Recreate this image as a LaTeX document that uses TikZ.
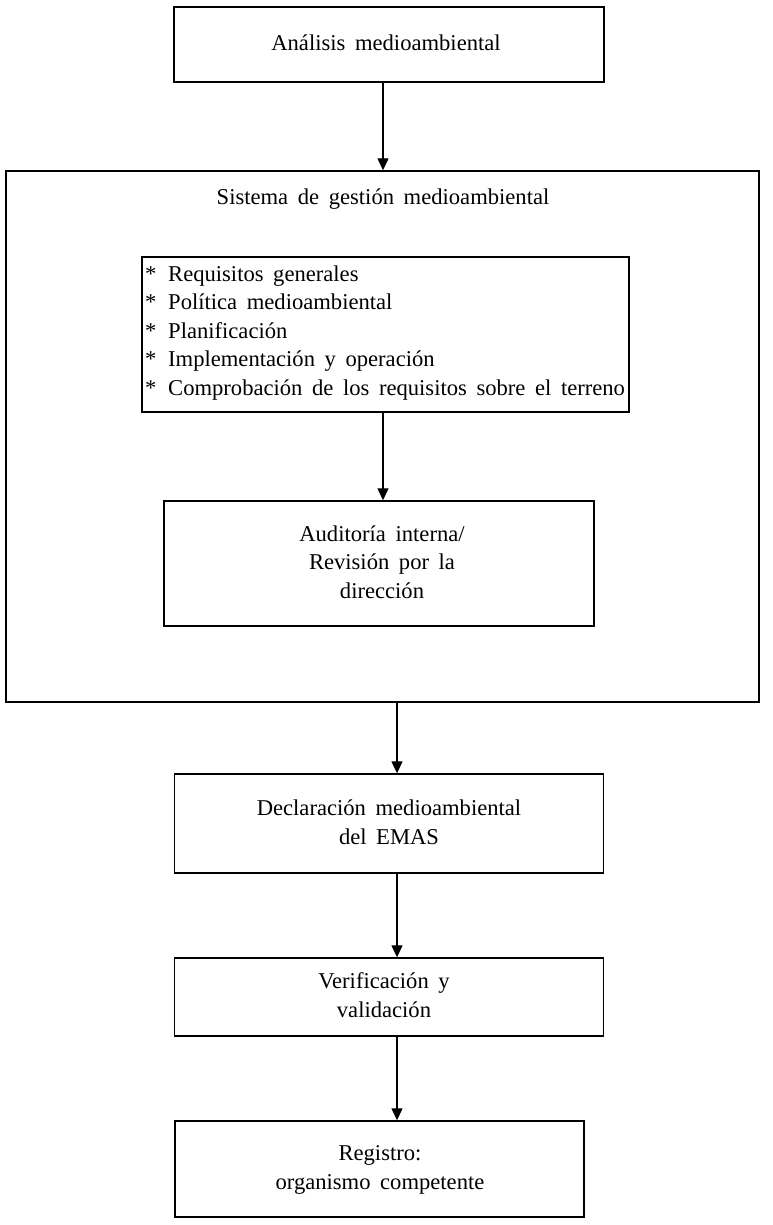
\documentclass[tikz,border=0pt]{standalone}
\usepackage{fontspec}
\setmainfont{Liberation Serif}[WordSpace=1.7]
\usetikzlibrary{arrows.meta}
\begin{document}
\begin{tikzpicture}[x=1pt,y=-1pt,
  box/.style={draw,line width=1.4pt,rectangle,inner sep=0pt},
  txt/.style={align=center,font=\fontsize{22.6}{28.5}\selectfont,inner sep=0pt},
  arr/.style={line width=1.3pt,-{Triangle[width=11pt,length=12pt]}}]
\useasboundingbox (0,0) rectangle (772,1225);
% boxes
\node[box,minimum width=430,minimum height=75] (top) at (389,44.5) {};
\node[box,minimum width=753,minimum height=531] (big) at (382.5,436.5) {};
\node[box,minimum width=487,minimum height=155] (list) at (385.5,334.5) {};
\node[box,minimum width=430,minimum height=125] (aud) at (379,563.5) {};
\node[box,minimum width=429,minimum height=99] (decl) at (389,823.5) {};
\node[box,minimum width=429,minimum height=78] (verif) at (389,997) {};
\node[box,minimum width=409,minimum height=96] (reg) at (379.5,1169) {};
% texts
\node[txt] (ttop) at (386,43) {Análisis medioambiental};
\node[txt] (tbig) at (383,199) {Sistema de gestión medioambiental};
\node[txt,align=left,anchor=west] (tlist) at (145,333) {%
\makebox[23pt][l]{*}Requisitos generales\\
\makebox[23pt][l]{*}Política medioambiental\\
\makebox[23pt][l]{*}Planificación\\
\makebox[23pt][l]{*}Implementación y operación\\
\makebox[23pt][l]{*}Comprobación de los requisitos sobre el terreno};
\node[txt] (taud) at (382,562) {Auditoría interna/\\Revisión por la\\dirección};
\node[txt] (tdecl) at (389,822) {Declaración medioambiental\\del EMAS};
\node[txt] (tverif) at (384,995) {Verificación y\\validación};
\node[txt] (treg) at (380,1170) {Registro:\\organismo competente};
% arrows
\coordinate (xa) at (383,0);
\coordinate (xb) at (397,0);
\draw[arr] (top.south -| xa) -- (big.north -| xa);
\draw[arr] (list.south -| xa) -- (aud.north -| xa);
\draw[arr] (big.south -| xb) -- (decl.north -| xb);
\draw[arr] (decl.south -| xb) -- (verif.north -| xb);
\draw[arr] (verif.south -| xb) -- (reg.north -| xb);
\end{tikzpicture}
\end{document}
